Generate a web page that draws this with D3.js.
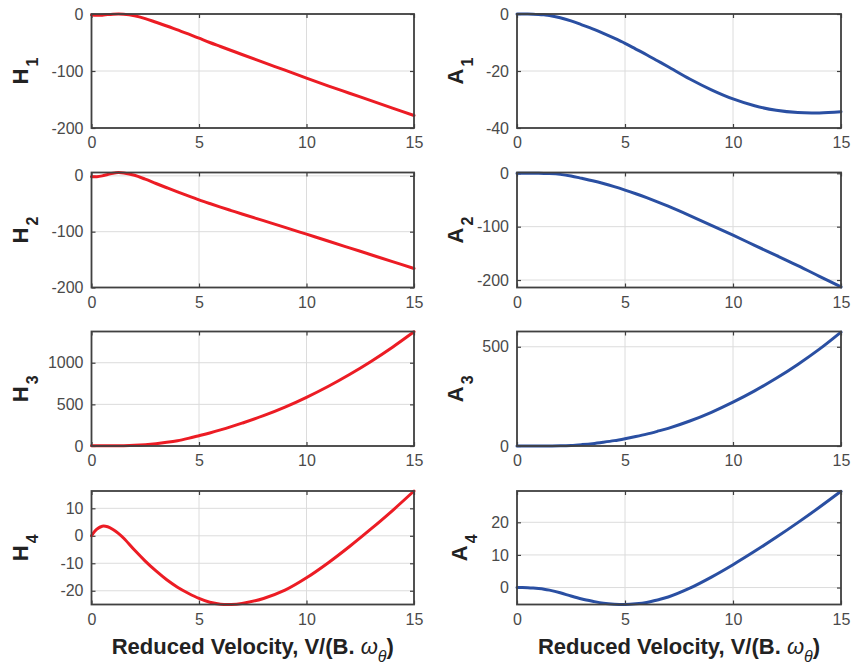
<!DOCTYPE html>
<html><head><meta charset="utf-8">
<script src="https://cdn.jsdelivr.net/npm/d3@7"></script>
<style>
html,body{margin:0;padding:0;background:#fff;}
svg{display:block;font-family:"Liberation Sans",Arial,Helvetica,sans-serif;}
</style></head>
<body><svg id="chart" width="867" height="670"></svg>
<script>
// Reduced velocity samples
const velocity = [0,0.25,0.5,0.75,1,1.25,1.5,2,2.5,3,3.5,4,4.5,5,5.5,6,6.5,7,8,9,10,11,12,13,14,15];
const xTicks = [0,5,10,15];

const H1 = [-1.7,-2.2,-2,-1,-0.3,0,-0.3,-3,-8,-14.5,-21,-28,-35,-42.5,-50,-57,-64,-71,-85,-98.5,-112.5,-126,-139,-152,-165,-178];
const H2 = [-1.4,-1.5,0,2.5,4.8,6,5.2,1,-6,-13.7,-21.3,-28.8,-36,-43,-49.6,-56,-62.2,-68.3,-80.3,-92.3,-104.5,-116.7,-129,-141.3,-153.6,-166];
const H3 = [4,3,3,3,3,3.5,4,8,16,28,44,64,92,124,157,193,232,274,364,467,585,715,859,1016,1187,1372];
const H4 = [0,2.4,3.5,3.3,2.3,0.9,-0.9,-5.2,-9.2,-12.8,-16,-18.7,-20.9,-22.8,-24.2,-24.9,-25,-24.6,-22.8,-19.8,-15.3,-9.9,-3.9,2.5,9.2,16.3];
const A1 = [0,0,0,-0.05,-0.15,-0.3,-0.5,-1.3,-2.4,-3.8,-5.2,-6.8,-8.5,-10.3,-12.3,-14.3,-16.4,-18.5,-22.8,-26.6,-29.8,-32.2,-33.8,-34.6,-34.7,-34.3];
const A2 = [0,0,0,0,-0.1,-0.3,-0.6,-2,-5,-9.4,-14,-19.2,-25,-31.4,-38.3,-45.7,-53.5,-61.7,-79.3,-97.5,-116,-135,-154,-173,-193,-213];
const A3 = [0,0,0,0,0,0.2,0.4,1,3,7,12,19,27,37,48,60,74,89,126,170,221,278,341,411,488,574];
const A4 = [0,0,-0.05,-0.15,-0.3,-0.5,-0.8,-1.6,-2.6,-3.5,-4.2,-4.8,-5.1,-5.2,-5,-4.6,-3.8,-2.9,-0.2,3.2,7.0,11.1,15.4,19.9,24.6,29.5];

// y-axis limits and ticks
const H1lim = [-200,0],  H1ticks = [-200,-100,0];
const H2lim = [-200,6],  H2ticks = [-200,-100,0];
const H3lim = [0,1375],  H3ticks = [0,500,1000];
const H4lim = [-25,16.3],H4ticks = [-20,-10,0,10];
const A1lim = [-40,0],   A1ticks = [-40,-20,0];
const A2lim = [-214,1.5],A2ticks = [-200,-100,0];
const A3lim = [0,577],   A3ticks = [0,500];
const A4lim = [-5.2,29.6],A4ticks = [0,10,20];

const xLabel = "Reduced Velocity, V/(B.";

const series = [
  {sym:"H", sub:"1", ys:H1, lim:H1lim, ticks:H1ticks, kind:"H", row:0},
  {sym:"H", sub:"2", ys:H2, lim:H2lim, ticks:H2ticks, kind:"H", row:1},
  {sym:"H", sub:"3", ys:H3, lim:H3lim, ticks:H3ticks, kind:"H", row:2},
  {sym:"H", sub:"4", ys:H4, lim:H4lim, ticks:H4ticks, kind:"H", row:3},
  {sym:"A", sub:"1", ys:A1, lim:A1lim, ticks:A1ticks, kind:"A", row:0},
  {sym:"A", sub:"2", ys:A2, lim:A2lim, ticks:A2ticks, kind:"A", row:1},
  {sym:"A", sub:"3", ys:A3, lim:A3lim, ticks:A3ticks, kind:"A", row:2},
  {sym:"A", sub:"4", ys:A4, lim:A4lim, ticks:A4ticks, kind:"A", row:3}
];

// layout
const colX = {H:[91.5,414], A:[517,841]};
const labelX = {H:28, A:463};
const rowY = [[14,128],[172.5,287.5],[331.5,446],[491,604.5]];
const colors = {H:"#ec1c24", A:"#2a4fa2"};
const axisCol = "#404040", gridCol = "#dcdcdc", textCol = "#4a4a4a";

const svg = d3.select("#chart");

series.forEach(s => {
  const [x0,x1] = colX[s.kind];
  const [y0,y1] = rowY[s.row];
  const x = d3.scaleLinear().domain([0,15]).range([x0,x1]);
  const y = d3.scaleLinear().domain(s.lim).range([y1,y0]);
  const g = svg.append("g");

  // grid
  g.selectAll(".gx").data(xTicks).join("line")
    .attr("x1",d=>x(d)).attr("x2",d=>x(d)).attr("y1",y0).attr("y2",y1)
    .attr("stroke",gridCol).attr("stroke-width",1);
  g.selectAll(".gy").data(s.ticks).join("line")
    .attr("x1",x0).attr("x2",x1).attr("y1",d=>y(d)).attr("y2",d=>y(d))
    .attr("stroke",gridCol).attr("stroke-width",1);

  const fmt = d => String(d);
  const ax = g.append("g").attr("transform",`translate(0,${y1})`)
    .call(d3.axisBottom(x).tickValues(xTicks).tickSize(-4).tickPadding(9).tickFormat(fmt));
  const axT = g.append("g").attr("transform",`translate(0,${y0})`)
    .call(d3.axisTop(x).tickValues(xTicks).tickSize(-4).tickFormat(""));
  const ay = g.append("g").attr("transform",`translate(${x0},0)`)
    .call(d3.axisLeft(y).tickValues(s.ticks).tickSize(-4).tickPadding(8).tickFormat(fmt));
  const ayR = g.append("g").attr("transform",`translate(${x1},0)`)
    .call(d3.axisRight(y).tickValues(s.ticks).tickSize(-4).tickFormat(""));
  [ax,axT,ay,ayR].forEach(a=>{
    a.select(".domain").remove();
    a.selectAll(".tick line").attr("stroke",axisCol).attr("stroke-width",1.2);
    a.selectAll(".tick text").attr("fill",textCol).style("font-size","16px")
      .style("font-family",'"Liberation Sans",Arial,sans-serif');
  });

  // line
  const line = d3.line().x((d,i)=>x(velocity[i])).y(d=>y(d)).curve(d3.curveCatmullRom.alpha(0.5));
  g.append("path").datum(s.ys).attr("d",line).attr("fill","none")
    .attr("stroke",colors[s.kind]).attr("stroke-width",3)
    .attr("stroke-linejoin","round").attr("stroke-linecap","round");

  // frame
  g.append("rect").attr("x",x0).attr("y",y0).attr("width",x1-x0).attr("height",y1-y0)
    .attr("fill","none").attr("stroke",axisCol).attr("stroke-width",1.8);

  // y label
  const lx = labelX[s.kind] + (s.kind==="A" && s.row===3 ? 4 : 0);
  const t = g.append("text").attr("transform",`translate(${lx},${(y0+y1)/2}) rotate(-90)`)
    .attr("text-anchor","middle").attr("fill","#222")
    .style("font-weight","bold").style("font-size","22px");
  t.append("tspan").text(s.sym);
  t.append("tspan").text(s.sub).attr("dy",10).style("font-size","16px").attr("dx",2);
});

// x labels
Object.keys(colX).forEach(k=>{
  const [x0,x1] = colX[k];
  const t = svg.append("text").attr("x",(x0+x1)/2).attr("y",654).attr("text-anchor","middle")
    .attr("fill","#222").style("font-weight","bold").style("font-size","22px");
  t.append("tspan").text(xLabel+" ");
  t.append("tspan").text("ω").style("font-style","italic").style("font-weight","normal");
  t.append("tspan").text("θ").attr("dy",8).style("font-style","italic").style("font-weight","normal").style("font-size","16px");
  t.append("tspan").text(")").attr("dy",-8);
});
</script></body></html>
